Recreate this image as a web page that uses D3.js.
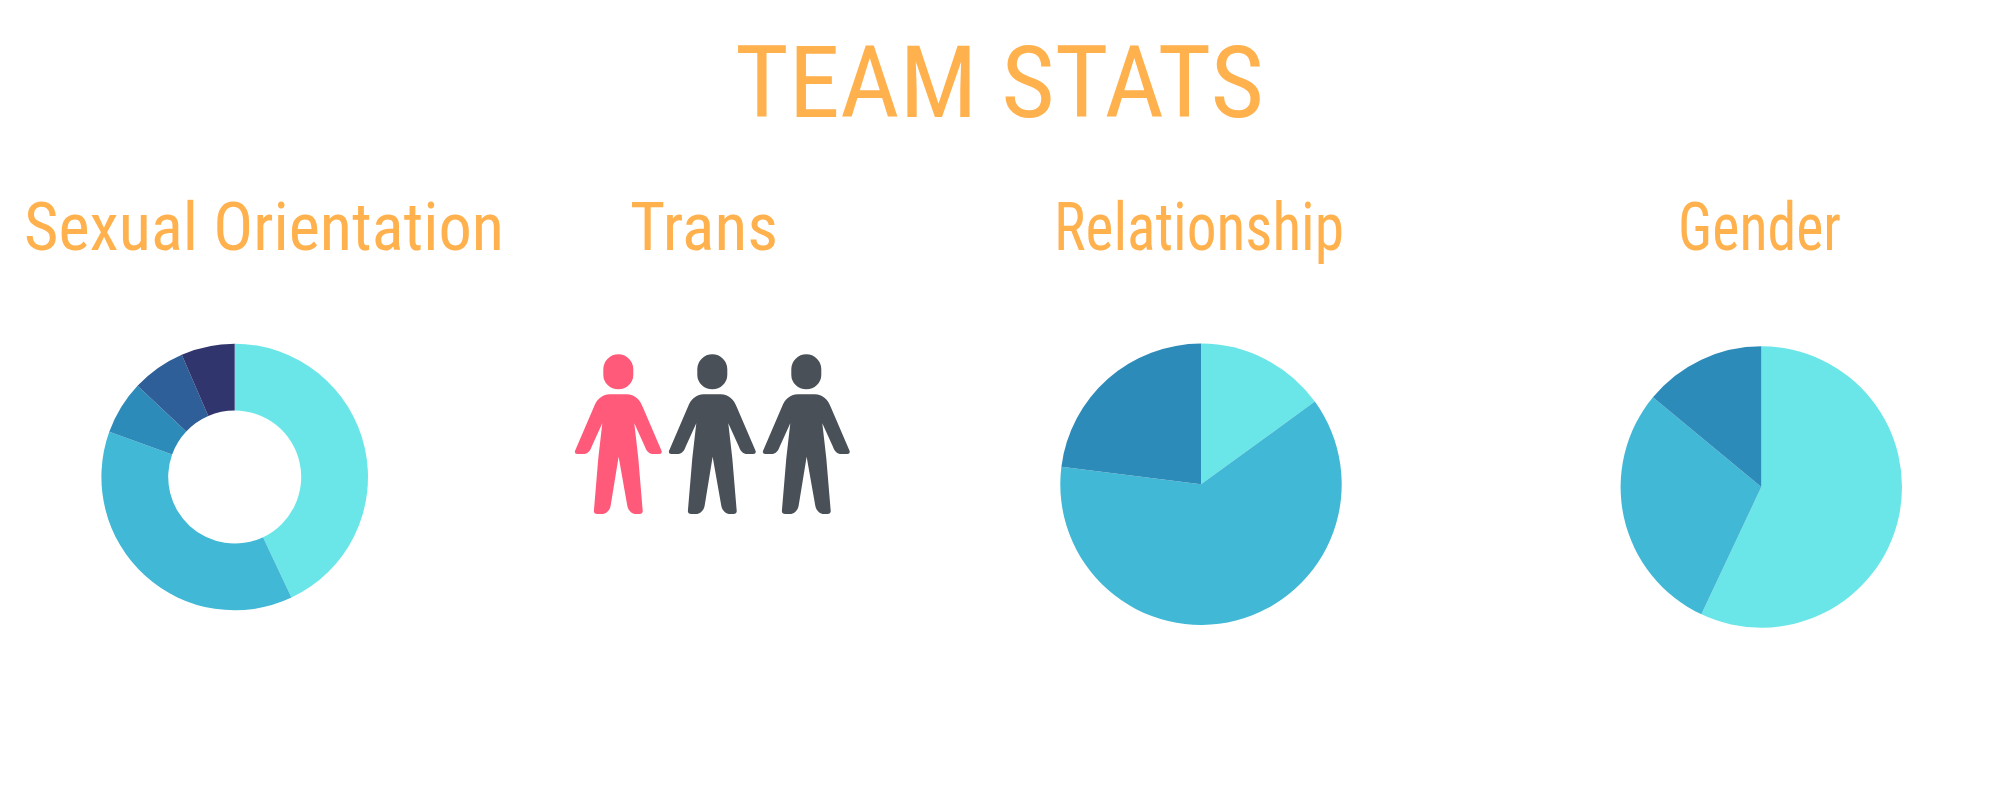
<!DOCTYPE html>
<html><head><meta charset="utf-8">
<script src="https://cdnjs.cloudflare.com/ajax/libs/d3/7.8.5/d3.min.js"></script>
<style>html,body{margin:0;padding:0;background:#fff}svg{display:block}text{font-family:"Roboto Condensed",Roboto,sans-serif;font-stretch:75%;fill:#ffb14e}</style>
</head><body><div id="c"></div>
<script>
const chartTitle = "TEAM STATS";
const panelTitles = ["Sexual Orientation","Trans","Relationship","Gender"];
const orientationValues = [43,37.5,6.5,6.5,6.5];
const relationshipValues = [15,62,23];
const genderValues = [57,29,14];
const transPeople = [1,0,0];
const pieColors = ["#6be6e8","#41b8d5","#2d8bba","#2f5f98","#31356e"];
const peopleColors = ["#495057","#ff5a7a"];

const svg = d3.select("#c").append("svg").attr("width",2000).attr("height",800);

svg.append("text").text(chartTitle).attr("x",735).attr("y",117).attr("font-size",100)
  .attr("textLength",529).attr("lengthAdjust","spacingAndGlyphs");

const titleLeft=[24,630,1054,1678], titleW=[480,148,290,163];
svg.selectAll("text.pt").data(panelTitles).join("text").attr("class","pt").text(d=>d)
  .attr("x",(d,i)=>titleLeft[i]).attr("y",249.7).attr("font-size",66)
  .attr("textLength",(d,i)=>titleW[i]).attr("lengthAdjust","spacingAndGlyphs");

function drawPie(values,cx,cy,R,r){
  const g=svg.append("g").attr("transform",`translate(${cx},${cy})`);
  const arcs=d3.pie().sort(null)(values);
  g.selectAll("path").data(arcs).join("path")
   .attr("d",d3.arc().innerRadius(r).outerRadius(R))
   .attr("fill",(d,i)=>pieColors[i]);
}
drawPie(orientationValues,234.7,477,133.3,66.5);
drawPie(relationshipValues,1201,484.3,140.7,0);
drawPie(genderValues,1761.3,487,140.7,0);

const personIcon="M120 148 L170 148 C195 148 210 165 218 185 L275 318 Q277 327 268 327 L250 327 C238 327 229 318 225 305 L193 235 L205 340 L218 495 Q220 507 208 507 L198 507 C184 507 174 495 172 482 L146 335 L122 482 C120 495 110 507 96 507 L82 507 Q70 507 72 495 L85 340 L97 235 L65 305 C61 318 52 327 40 327 L22 327 Q13 327 15 318 L72 185 C80 165 95 148 120 148 Z M100 72 A45 44 0 0 1 190 72 L190 89 A45 44 0 0 1 100 89 Z";
const px=d3.scalePoint().domain(d3.range(transPeople.length)).range([618.3,806.3]);
svg.selectAll("path.person").data(transPeople).join("path").attr("class","person")
  .attr("d",personIcon)
  .attr("transform",(d,i)=>`translate(${px(i)},345) scale(${1/3}) translate(-145,0)`)
  .attr("fill",d=>peopleColors[d]);
</script></body></html>
